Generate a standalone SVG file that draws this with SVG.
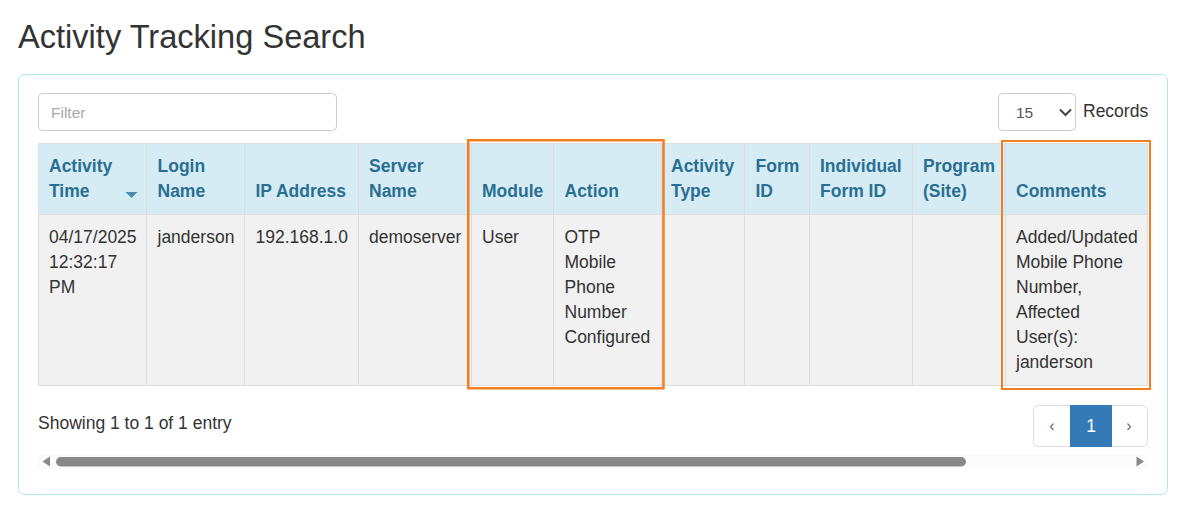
<svg xmlns="http://www.w3.org/2000/svg" width="1183" height="509" viewBox="0 0 1183 509">
<style>
text{font-family:"Liberation Sans",Arial,sans-serif;font-size:17.500px;fill:#333}
.h{font-weight:700;fill:#2a6f92}
.g{stroke:#ddd;stroke-width:1;fill:none}
.o{fill:none;stroke:#f47d20}
.b{fill:#fff;stroke:#ccc;stroke-width:1}
.ar{fill:#888}
</style>
<rect width="1183" height="509" fill="#fff"/>
<text id="title" x="18" y="48" style="font-size:32.600px">Activity Tracking Search</text>
<rect id="panel" x="18.500" y="74.500" width="1149" height="420" rx="6" fill="#fff" stroke="#b2e6ee"/>
<g id="filter">
<rect class="b" x="38.500" y="93.500" width="298" height="37" rx="4"/>
<text x="51" y="118" style="font-size:15.500px;fill:#a9a9a9">Filter</text>
</g>
<g id="records">
<rect class="b" x="998.500" y="93.500" width="77" height="37" rx="4"/>
<text x="1016" y="118" style="font-size:15.500px;fill:#555">15</text>
<path d="M1060 109.500l5.500 5.500l5.500-5.500" fill="none" stroke="#444" stroke-width="2"/>
<text x="1083" y="117">Records</text>
</g>
<g id="table">
<rect x="38.500" y="143.500" width="1109" height="71" fill="#d6ecf5"/>
<rect x="38.500" y="214.500" width="1109" height="171" fill="#f1f1f1"/>
<path class="g" d="M38.500 143.500H1147.500V385.500H38.500ZM38.500 214.500H1147.500M146.500 143.500V385.500M244.500 143.500V385.500M358.500 143.500V385.500M471.500 143.500V385.500M553.500 143.500V385.500M661.500 143.500V385.500M744.500 143.500V385.500M809.500 143.500V385.500M912.500 143.500V385.500M1005.500 143.500V385.500"/>
<path d="M125.500 192h12l-6 6z" fill="#4c8cab"/>
<text class="h" x="49" y="172">Activity</text>
<text class="h" x="49" y="197">Time</text>
<text class="h" x="157.500" y="172">Login</text>
<text class="h" x="157.500" y="197">Name</text>
<text class="h" x="255.500" y="197">IP Address</text>
<text class="h" x="369" y="172">Server</text>
<text class="h" x="369" y="197">Name</text>
<text class="h" x="482" y="197">Module</text>
<text class="h" x="564.500" y="197">Action</text>
<text class="h" x="671" y="172">Activity</text>
<text class="h" x="671" y="197">Type</text>
<text class="h" x="755.500" y="172">Form</text>
<text class="h" x="755.500" y="197">ID</text>
<text class="h" x="820" y="172">Individual</text>
<text class="h" x="820" y="197">Form ID</text>
<text class="h" x="923" y="172">Program</text>
<text class="h" x="923" y="197">(Site)</text>
<text class="h" x="1016" y="197">Comments</text>
<text x="49" y="243">04/17/2025</text>
<text x="49" y="268">12:32:17</text>
<text x="49" y="293">PM</text>
<text x="157.500" y="243">janderson</text>
<text x="255.500" y="243">192.168.1.0</text>
<text x="369" y="243">demoserver</text>
<text x="482" y="243">User</text>
<text x="564.500" y="243">OTP</text>
<text x="564.500" y="268">Mobile</text>
<text x="564.500" y="293">Phone</text>
<text x="564.500" y="318">Number</text>
<text x="564.500" y="343">Configured</text>
<text x="1016" y="243">Added/Updated</text>
<text x="1016" y="268">Mobile Phone</text>
<text x="1016" y="293">Number,</text>
<text x="1016" y="318">Affected</text>
<text x="1016" y="343">User(s):</text>
<text x="1016" y="368">janderson</text>
</g>
<g id="highlight-1"><rect class="o" stroke-width="2.500" x="468.250" y="140.250" width="195.250" height="248"/></g>
<g id="highlight-2"><rect class="o" stroke-width="2" x="1002" y="141" width="148" height="248"/></g>
<text id="info" x="38" y="429">Showing 1 to 1 of 1 entry</text>
<g id="pagination">
<rect x="1033.500" y="405.500" width="114" height="41" rx="5" fill="#fff" stroke="#ddd"/>
<rect x="1070" y="405" width="42" height="42" fill="#337ab7"/>
<text x="1052" y="431" text-anchor="middle" style="font-size:16px;fill:#666">‹</text>
<text x="1091" y="432" text-anchor="middle" style="fill:#fff">1</text>
<text x="1129" y="431" text-anchor="middle" style="font-size:16px;fill:#666">›</text>
</g>
<g id="scrollbar">
<rect x="38" y="454" width="1110" height="15" fill="#fbfbfb"/>
<path class="ar" d="M42.500 461.500l7.500-5v10zM1144 461.500l-7.500-5v10z"/>
<rect class="ar" x="56" y="457" width="910" height="9.500" rx="4.750"/>
</g>
</svg>
